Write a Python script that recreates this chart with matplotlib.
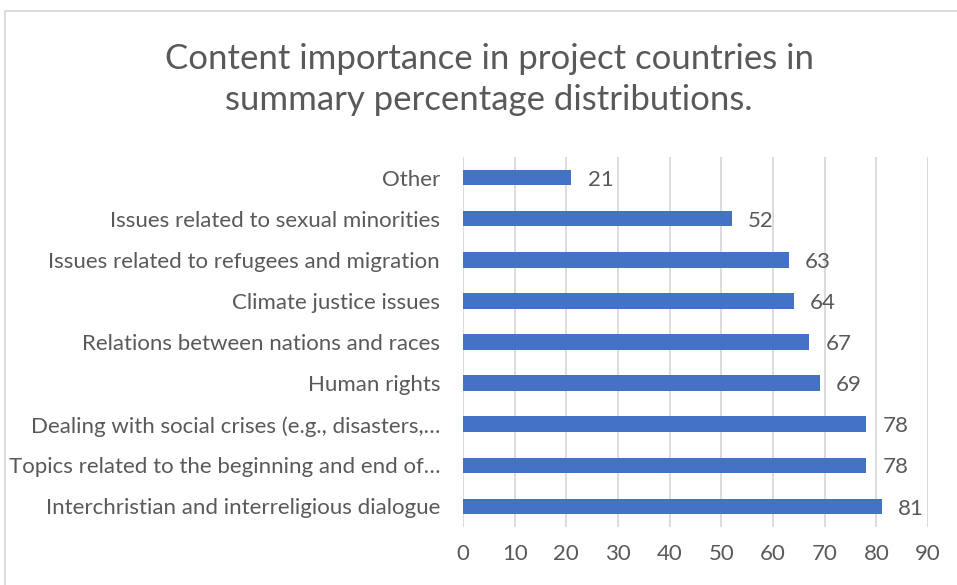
import matplotlib.pyplot as plt
from matplotlib.patches import Rectangle

categories = [
    'Interchristian and interreligious dialogue',
    'Topics related to the beginning and end of\u2026',
    'Dealing with social crises (e.g., disasters,\u2026',
    'Human rights',
    'Relations between nations and races',
    'Climate justice issues',
    'Issues related to refugees and migration',
    'Issues related to sexual minorities',
    'Other',
]
values = [81, 78, 78, 69, 67, 64, 63, 52, 21]
x_ticks = [0, 10, 20, 30, 40, 50, 60, 70, 80, 90]

bar_color = '#4472C4'
text_color = '#595959'
grid_color = '#D9D9D9'

plt.rcParams['font.family'] = ['Lato', 'DejaVu Sans']

fig = plt.figure(figsize=(9.57, 5.85), dpi=100)
ax = fig.add_axes([0.4838, 0.0991, 0.4859, 0.6325])

ypos = list(range(len(categories)))
ax.barh(ypos, values, height=0.38, color=bar_color, zorder=3)
for y, v in zip(ypos, values):
    ax.text(v + 3.2, y - 0.05, str(v), va='center', ha='left', fontsize=16, color=text_color)

ax.set_xlim(0, 90)
ax.set_ylim(-0.5, len(categories) - 0.5)
ax.set_xticks(x_ticks)
ax.set_yticks(ypos)
ax.set_yticklabels(categories)
ax.tick_params(axis='both', length=0, labelsize=16, colors=text_color)
ax.tick_params(axis='y', pad=16.5)
ax.tick_params(axis='x', pad=12)
ax.grid(axis='x', color=grid_color, lw=1.3, zorder=0)
for s in ax.spines.values():
    s.set_visible(False)

fig.text(0.511, 0.864, 'Content importance in project countries in\nsummary percentage distributions.',
         ha='center', va='center', fontsize=25, color=text_color, linespacing=1.32)

fig.patches.append(Rectangle((5 / 957, -0.1), 1.2, 1 - 11 / 585 + 0.1, transform=fig.transFigure,
                             fill=False, edgecolor=grid_color, lw=1.3))

fig.savefig('out.png', dpi=100)
